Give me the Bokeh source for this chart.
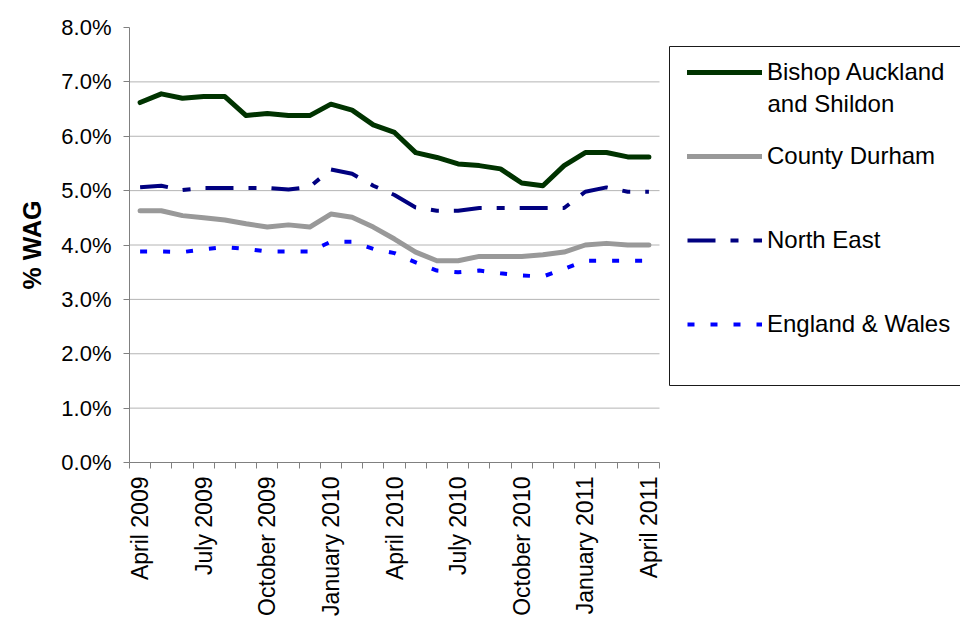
import math
from bokeh.plotting import figure
from bokeh.models import (Range1d, FixedTicker, PrintfTickFormatter, Legend, LegendItem,
                          Label, BoxAnnotation)
from bokeh.embed import file_html
from bokeh.resources import INLINE

# Monthly series, April 2009 - April 2011 (% of working age group)
months = ["April 2009", "May 2009", "June 2009", "July 2009", "August 2009",
          "September 2009", "October 2009", "November 2009", "December 2009",
          "January 2010", "February 2010", "March 2010", "April 2010", "May 2010",
          "June 2010", "July 2010", "August 2010", "September 2010", "October 2010",
          "November 2010", "December 2010", "January 2011", "February 2011",
          "March 2011", "April 2011"]
bishop_auckland = [6.62, 6.78, 6.70, 6.73, 6.73, 6.38, 6.42, 6.38, 6.38, 6.59, 6.48, 6.21, 6.07,
                   5.70, 5.61, 5.49, 5.46, 5.40, 5.14, 5.09, 5.46, 5.70, 5.70, 5.62, 5.62]
county_durham = [4.63, 4.63, 4.54, 4.50, 4.46, 4.39, 4.33, 4.37, 4.33, 4.57, 4.51, 4.33, 4.11,
                 3.87, 3.71, 3.71, 3.79, 3.79, 3.79, 3.82, 3.87, 4.00, 4.03, 4.00, 4.00]
north_east = [5.06, 5.09, 5.01, 5.05, 5.05, 5.05, 5.05, 5.02, 5.07, 5.39, 5.31, 5.09, 4.92,
              4.69, 4.63, 4.63, 4.68, 4.68, 4.68, 4.68, 4.68, 4.98, 5.06, 4.98, 4.98]
england_wales = [3.88, 3.88, 3.87, 3.92, 3.96, 3.93, 3.88, 3.88, 3.88, 4.06, 4.06, 3.93, 3.85,
                 3.68, 3.53, 3.50, 3.53, 3.48, 3.44, 3.42, 3.56, 3.71, 3.71, 3.71, 3.71]
y_ticks = [0, 1, 2, 3, 4, 5, 6, 7, 8]

FONT = "Liberation Sans"
AXIS_GREY = "#808080"

n = len(months)
x = [i + 0.5 for i in range(n)]

# The frame runs to the right edge so the legend can sit beside the data area;
# the plotted months occupy the first 530 px of its 831 px width.
PLOT_W, FRAME_W = 530, 831
x_end = n * FRAME_W / PLOT_W

p = figure(width=960, height=623, output_backend="svg", toolbar_location=None,
           x_range=Range1d(0, x_end), y_range=Range1d(0, 8),
           min_border_left=129, min_border_right=0, min_border_top=27,
           min_border_bottom=161)
p.outline_line_color = None
p.background_fill_color = "white"
p.border_fill_color = "white"

# x axis: labels every quarter at month centres, small ticks at month edges
p.xaxis.bounds = (0, n)
p.xaxis.ticker = FixedTicker(ticks=[x[i] for i in range(0, n, 3)],
                             minor_ticks=list(range(n + 1)))
p.xaxis.major_label_overrides = {x[i]: months[i] for i in range(0, n, 3)}
p.xaxis.major_label_orientation = math.pi / 2
p.xaxis.major_tick_out = 0
p.xaxis.major_tick_in = 0
p.xaxis.minor_tick_out = 6
p.xaxis.minor_tick_in = 0
p.xaxis.minor_tick_line_color = AXIS_GREY
p.xaxis.axis_line_color = AXIS_GREY
p.xaxis.major_label_standoff = 8
p.xaxis.major_label_text_font = FONT
p.xaxis.major_label_text_font_size = "23px"
p.xaxis.major_label_text_color = "black"

# y axis
p.yaxis.ticker = FixedTicker(ticks=y_ticks, minor_ticks=[])
p.yaxis.formatter = PrintfTickFormatter(format="%.1f%%")
p.yaxis.major_tick_out = 6
p.yaxis.major_tick_in = 0
p.yaxis.major_tick_line_color = AXIS_GREY
p.yaxis.axis_line_color = AXIS_GREY
p.yaxis.major_label_standoff = 12
p.yaxis.major_label_text_font = FONT
p.yaxis.major_label_text_font_size = "22px"
p.yaxis.major_label_text_color = "black"
p.yaxis.axis_label = "% WAG"
p.yaxis.axis_label_text_font = FONT
p.yaxis.axis_label_text_font_size = "25px"
p.yaxis.axis_label_text_font_style = "bold"
p.yaxis.axis_label_text_color = "black"
p.yaxis.axis_label_standoff = 12

# horizontal gridlines across the data area only
p.xgrid.visible = False
p.ygrid.visible = False
grid_y = y_ticks[1:-1]
p.segment(x0=[0] * len(grid_y), y0=grid_y, x1=[n] * len(grid_y), y1=grid_y,
          line_color="#b4b4b4", line_width=1)

r_ba = p.line(x, bishop_auckland, line_color="#003300", line_width=5,
              line_join="round", line_cap="round")
r_cd = p.line(x, county_durham, line_color="#999999", line_width=5,
              line_join="round", line_cap="round")
r_ne = p.line(x, north_east, line_color="#000080", line_width=4, line_dash="28 15 8 15")
r_ew = p.line(x, england_wales, line_color="#0000ff", line_width=4, line_dash="7 16")

# legend frame (open to the right edge) and entries
box = BoxAnnotation(left=540, right=845, bottom=77, top=416,
                    left_units="screen", right_units="screen",
                    bottom_units="screen", top_units="screen",
                    fill_alpha=0, line_color="#1a1a1a", line_alpha=1.0, line_width=1)
p.add_layout(box)

legend = Legend(items=[LegendItem(label="Bishop Auckland", renderers=[r_ba]),
                       LegendItem(label="County Durham", renderers=[r_cd]),
                       LegendItem(label="North East", renderers=[r_ne]),
                       LegendItem(label="England & Wales", renderers=[r_ew])],
                location=(548, 113), margin=0, padding=10, spacing=54,
                glyph_width=75, glyph_height=30, label_height=30, label_standoff=5,
                label_text_font=FONT, label_text_font_size="24px",
                label_text_color="black",
                background_fill_alpha=0, border_line_alpha=0)
p.add_layout(legend)

p.add_layout(Label(x=638, y=359, x_units="screen", y_units="screen", text="and Shildon",
                   text_font=FONT, text_font_size="24px", text_color="black",
                   text_baseline="middle", text_align="left"))

open("out.html", "w").write(file_html(p, INLINE))
